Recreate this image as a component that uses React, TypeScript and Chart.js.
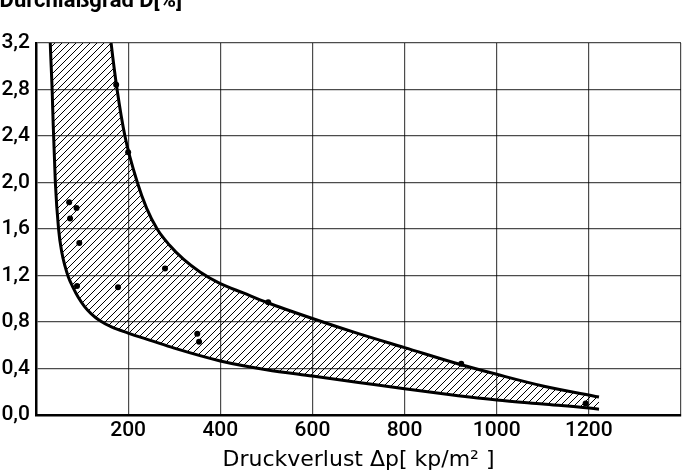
import React, { useEffect, useRef } from 'react';
import { Chart, registerables } from 'chart.js';

Chart.register(...registerables);

// Lower boundary curve (first point lies above the plot so the curve enters at the top edge)
const lowerX = [29, 31, 35, 37, 42, 49, 56, 63, 70, 80, 92, 105, 120, 139, 165, 200, 250, 300, 400, 500, 600, 700, 800, 900, 1000, 1100, 1200, 1222];
const lowerY = [3.5, 3.2, 2.8, 2.54, 2.0, 1.6, 1.4, 1.28, 1.19, 1.1, 1.01, 0.935, 0.87, 0.81, 0.755, 0.705, 0.64, 0.575, 0.465, 0.39, 0.335, 0.28, 0.225, 0.175, 0.13, 0.095, 0.06, 0.05];

// Upper boundary curve (first two points lie above the plot)
const upperX = [29, 155, 163, 176, 193, 220, 240, 263, 290, 320, 356, 400, 450, 500, 600, 700, 800, 925, 1000, 1100, 1222];
const upperY = [3.5, 3.5, 3.2, 2.8, 2.4, 2.0, 1.78, 1.6, 1.46, 1.34, 1.23, 1.13, 1.05, 0.97, 0.83, 0.70, 0.58, 0.43, 0.35, 0.25, 0.155];

// Measured points
const pointX = [72, 88, 74, 94, 89, 178, 280, 350, 354, 504, 923, 1193, 174, 200];
const pointY = [1.83, 1.78, 1.69, 1.48, 1.11, 1.10, 1.26, 0.70, 0.63, 0.97, 0.44, 0.10, 2.84, 2.26];

const X_MIN = 0;
const X_MAX = 1400;
const X_STEP = 200;
const Y_MIN = 0;
const Y_MAX = 3.2;
const Y_STEP = 0.4;
const hiddenXTicks = [0, 1400];

const xTitle = 'Druckverlust Δp[ kp/m² ]';
const yTitle = 'Durchlaßgrad D[%]';

const FONT = 'Roboto';
const TITLE_FONT = '"DejaVu Sans"';

function makeHatch(): CanvasPattern | string {
  const c = document.createElement('canvas');
  const s = 7;
  c.width = s;
  c.height = s;
  const g = c.getContext('2d');
  if (!g) return 'rgba(0,0,0,0.3)';
  g.strokeStyle = '#000';
  g.lineWidth = 1;
  g.beginPath();
  g.moveTo(-1, s + 1);
  g.lineTo(s + 1, -1);
  g.moveTo(-1, 1);
  g.lineTo(1, -1);
  g.moveTo(s - 1, s + 1);
  g.lineTo(s + 1, s - 1);
  g.stroke();
  return g.createPattern(c, 'repeat') || 'rgba(0,0,0,0.3)';
}

export default function App() {
  const ref = useRef<HTMLCanvasElement | null>(null);

  useEffect(() => {
    if (!ref.current) return;
    const hatch = makeHatch();
    const topTitle = {
      id: 'topTitle',
      afterDraw(chart: any) {
        const ctx = chart.ctx;
        ctx.save();
        ctx.font = `bold 22px ${FONT}`;
        ctx.fillStyle = '#000';
        ctx.textAlign = 'right';
        ctx.textBaseline = 'alphabetic';
        ctx.fillText(yTitle, 182, 7);
        ctx.restore();
      },
    };

    const chart = new Chart(ref.current, {
      type: 'line',
      data: {
        datasets: [
          {
            data: upperX.map((x, i) => ({ x, y: upperY[i] })),
            borderColor: '#000',
            borderWidth: 3,
            pointRadius: 0,
            cubicInterpolationMode: 'monotone',
            fill: 1,
            backgroundColor: hatch as any,
          },
          {
            data: lowerX.map((x, i) => ({ x, y: lowerY[i] })),
            borderColor: '#000',
            borderWidth: 3,
            pointRadius: 0,
            cubicInterpolationMode: 'monotone',
            fill: false,
          },
          {
            data: pointX.map((x, i) => ({ x, y: pointY[i] })),
            showLine: false,
            pointRadius: 3,
            pointBackgroundColor: '#000',
            pointBorderWidth: 0,
            borderColor: '#000',
            fill: false,
          },
        ],
      },
      options: {
        animation: false,
        responsive: false,
        maintainAspectRatio: false,
        devicePixelRatio: 1,
        layout: { padding: { top: 43, right: 5, left: 0, bottom: 0 } },
        plugins: {
          legend: { display: false },
          tooltip: { enabled: false },
        },
        scales: {
          x: {
            type: 'linear',
            min: X_MIN,
            max: X_MAX,
            ticks: {
              stepSize: X_STEP,
              color: '#000',
              padding: 3,
              maxRotation: 0,
              autoSkip: false,
              font: { family: FONT, size: 21, weight: '500' as any },
              callback: (v: any) => (hiddenXTicks.includes(Number(v)) ? '' : String(v)),
            },
            grid: { color: 'rgba(0,0,0,0.7)', lineWidth: 1.2, drawTicks: false },
            border: { display: true, color: '#000', width: 2.5 },
            title: {
              display: true,
              text: xTitle,
              color: '#000',
              font: { family: TITLE_FONT, size: 22, lineHeight: 1 },
              padding: { top: 0, bottom: 1 },
            },
            afterFit: (s: any) => {
              s.height = 57;
            },
          },
          y: {
            type: 'linear',
            min: Y_MIN,
            max: Y_MAX,
            ticks: {
              stepSize: Y_STEP,
              color: '#000',
              padding: 6,
              font: { family: FONT, size: 21, weight: '500' as any },
              callback: (v: any) => Number(v).toFixed(1).replace('.', ','),
            },
            grid: { color: 'rgba(0,0,0,0.7)', lineWidth: 1.2, drawTicks: false },
            border: { display: true, color: '#000', width: 2.5 },
            afterFit: (s: any) => {
              s.width = 36;
            },
          },
        },
      },
      plugins: [topTitle],
    } as any);

    return () => chart.destroy();
  }, []);

  return (
    <div style={{ position: 'fixed', left: 0, top: 0, width: 686, height: 472, background: '#fff' }}>
      <canvas ref={ref} width={686} height={472} style={{ display: 'block' }} />
    </div>
  );
}
